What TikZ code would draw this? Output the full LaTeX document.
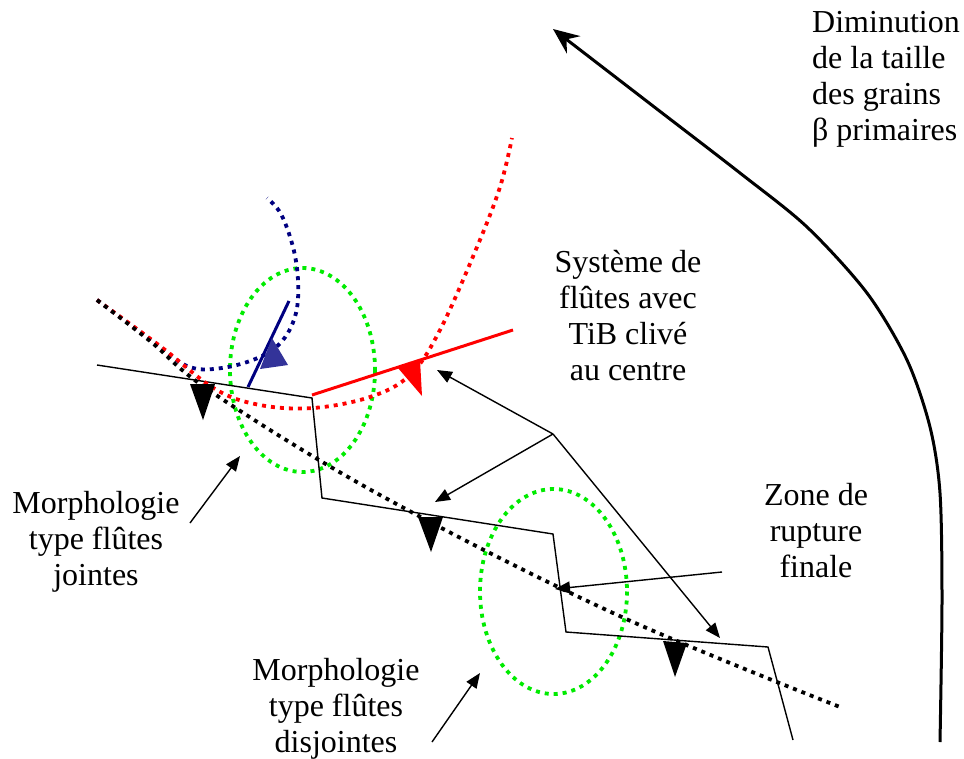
\documentclass[tikz,border=0pt]{standalone}
\usepackage{fontspec}
\setmainfont{Liberation Serif}
\usetikzlibrary{arrows.meta}
\definecolor{rupred}{RGB}{255,0,0}
\definecolor{navyline}{RGB}{0,0,128}
\definecolor{tribleu}{RGB}{51,51,153}
\definecolor{lime}{RGB}{0,235,0}
\tikzset{
  legend/.style={font=\fontsize{32}{36}\selectfont,align=#1,inner sep=0pt},
  legend/.default=center,
  dots/.style={draw=#1,line width=3.8pt,dash pattern=on 4pt off 5pt},
  dots/.default=black,
  zone/.style={dots=lime},
  fracture/.style={draw=black,line width=1.4pt,line join=miter},
  pointer/.style={-{Triangle[length=15pt,width=12pt]},line width=1.4pt},
  trend/.style={-{Stealth[length=26pt,width=22pt,inset=9pt]},line width=3pt},
  marker/.style={fill=#1},
}

\begin{document}
\begin{tikzpicture}[x=1pt,y=-1pt]
  \useasboundingbox (0,0) rectangle (964,758);

  % zones entourees
  \draw[zone] (302.5,370) ellipse [x radius=72.5,y radius=102];
  \draw[zone] (553.5,591.5) ellipse [x radius=73.5,y radius=102.5];

  % profil de rupture
  \draw[fracture] (97,365) -- (312,398) -- (322,498) -- (553,534) -- (566,632) -- (768,647) -- (793,740);

  % fronts de fissure
  \draw[dots=navyline] plot[smooth,tension=0.6] coordinates {(97,300) (147,337) (187,366) (222,368) (260,357) (283,340) (296,313) (298,280) (293,247) (281,214) (267,198)};
  \draw[dots=rupred] plot[smooth,tension=0.6] coordinates {(97,300) (160,346) (215,389) (260,405) (313,408) (370,397) (410,375) (440,330) (477,247) (500,187) (512,138)};
  \draw[dots] plot[smooth,tension=0.6] coordinates {(97,300) (150,341) (213,393) (380,495) (613,613) (840,707)};

  \draw[navyline,line width=3pt] (248,387) -- (289,301);
  \draw[rupred,line width=3pt] (312,395) -- (513,330);

  \fill[marker=tribleu] (272,338) -- (288,365) -- (260,369) -- cycle;
  \fill[marker=rupred] (398,368) -- (420,360) -- (422,396) -- cycle;
  \fill[marker=black] (190,384) -- (215,384) -- (203,420) -- cycle;
  \fill[marker=black] (418,517) -- (443,517) -- (431,552) -- cycle;
  \fill[marker=black] (663,641) -- (687,643) -- (675,677) -- cycle;

  % textes
  \node[legend=left,anchor=west] (dimin) at (812,79.5) {Diminution\\de la taille\\des grains\\β primaires};
  \node[legend] (systeme) at (628,315.5) {Système de\\flûtes avec\\TiB clivé\\au centre};
  \node[legend] (rupture) at (816,530.5) {Zone de\\rupture\\finale};
  \node[legend] (morphj) at (96,541.5) {Morphologie\\type flûtes\\jointes};
  \node[legend] (morphd) at (336,709) {Morphologie\\type flûtes\\disjointes};

  % fleches
  \coordinate (hub) at (553,434);
  \coordinate (tibtip) at (437,370);
  \coordinate (fluteA) at (435,502);
  \coordinate (fluteB) at (720,638);
  \coordinate (zstart) at (722,572);
  \coordinate (ztip) at (555,589);
  \coordinate (mjstart) at (190,523);
  \coordinate (mjtip) at (240,456);
  \coordinate (mdstart) at (432,742);
  \coordinate (mdtip) at (480,673);
  \draw[pointer] (hub) -- (tibtip);
  \draw[pointer] (hub) -- (fluteA);
  \draw[pointer] (hub) -- (fluteB);
  \draw[pointer] (zstart) -- (ztip);
  \draw[pointer] (mjstart) -- (mjtip);
  \draw[pointer] (mdstart) -- (mdtip);

  \draw[trend] plot[smooth] coordinates {(940,742) (942,600) (940,493) (930,427) (907,360) (867,293) (807,227) (740,173) (653,106) (553,29)};
\end{tikzpicture}
\end{document}
